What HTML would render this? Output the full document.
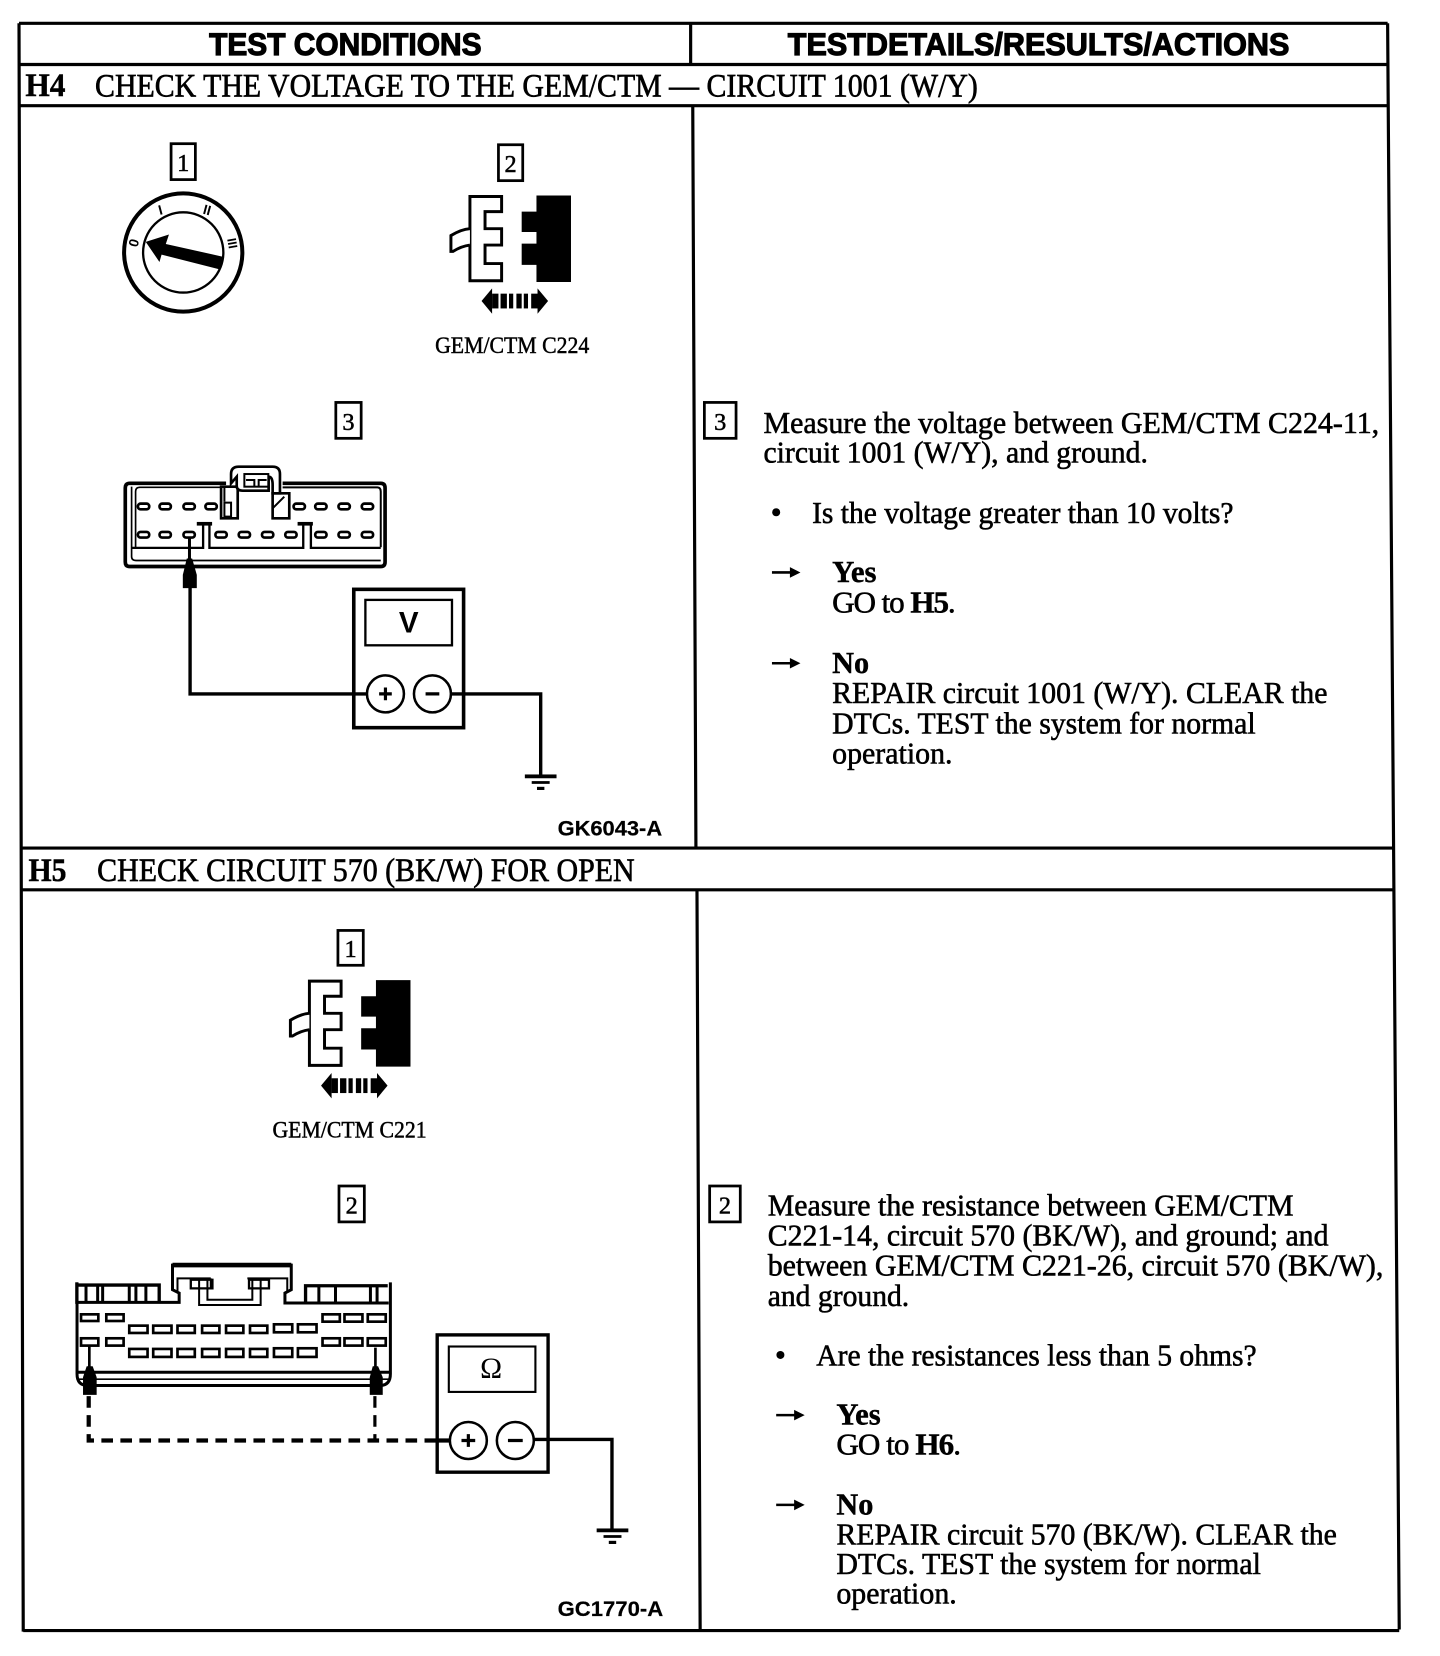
<!DOCTYPE html>
<html><head><meta charset="utf-8"><style>
html,body{margin:0;padding:0;background:#fff}
svg{display:block}
text{fill:#000}
.s{font-family:"Liberation Serif",serif;font-size:29.5px;stroke:#000;stroke-width:.55}
.b{font-family:"Liberation Serif",serif;font-size:29.5px;font-weight:bold;stroke:#000;stroke-width:.4}
.t{font-family:"Liberation Serif",serif;font-size:31px;stroke:#000;stroke-width:.6}
.h{font-family:"Liberation Sans",sans-serif;font-size:30px;font-weight:bold;stroke:#000;stroke-width:1.1}
.l{font-family:"Liberation Serif",serif;font-size:21.5px;stroke:#000;stroke-width:.45}
.c{font-family:"Liberation Sans",sans-serif;font-size:20.5px;font-weight:bold;stroke:#000;stroke-width:.2}
.n{font-family:"Liberation Serif",serif;font-size:23px;text-anchor:middle;stroke:#000;stroke-width:.5}
.ln{stroke:#000;stroke-width:2.6;fill:none}
.bx{stroke:#000;stroke-width:2.6;fill:#fff}
.w{stroke:#000;stroke-width:3.2;fill:none}
.p{fill:#fff;stroke:#000;stroke-width:8}
.z{fill:none;stroke:#000;stroke-width:6}
.d{font-family:"Liberation Sans",sans-serif;font-size:13px;font-weight:bold;text-anchor:middle}
</style></head><body>
<svg xmlns="http://www.w3.org/2000/svg" width="1440" height="1656" viewBox="0 0 1363.6 1568">
<defs>
<g id="ic">
<path d="M0,0H30V14.3H14.3V30.5H30V46H14.3V63.5H30V79.8H0Z" fill="#fff" stroke="#000" stroke-width="2.8"/>
<path d="M0,30.5Q-8,31 -18,37V52L-16,52Q-8,47 0,46" fill="#fff" stroke="#000" stroke-width="2.8"/>
<path d="M63,-1H95.7V81H63V64.8H49V44.6H63V33.6H49V14.3H63Z" fill="#000"/>
<path d="M11,99L21,87V111Z" fill="#000"/><path d="M74,99L64,87V111Z" fill="#000"/>
<rect x="21" y="92" width="6" height="14"/><rect x="29" y="92" width="6" height="14"/><rect x="37" y="92" width="4" height="14"/><rect x="44" y="92" width="5" height="14"/><rect x="51" y="92" width="4" height="14"/><rect x="58" y="92" width="7" height="14"/>
</g>
<g id="gnd"><rect x="-15" y="-1.7" width="30" height="3.6"/><rect x="-8.5" y="4.6" width="17" height="2.6"/><rect x="-3.5" y="10" width="7" height="3"/></g>
</defs>

<!-- table frame -->
<path class="ln" d="M18,22H1314M18,61H1314M19,100H1315M654,22V61M18,22L22,1545M1314,22L1325,1543M656,100L659,803M19,803H1320M21,842.5H1321M660,843L663,1543M22,1544H1325" style="stroke-width:3"/>

<!-- headers -->
<text class="h" x="198" y="52" textLength="258" lengthAdjust="spacingAndGlyphs">TEST CONDITIONS</text>
<text class="h" x="746" y="52" textLength="475" lengthAdjust="spacingAndGlyphs">TESTDETAILS/RESULTS/ACTIONS</text>
<text class="b" x="24" y="91" textLength="38" lengthAdjust="spacingAndGlyphs" style="font-size:31px">H4</text>
<text class="t" x="90" y="91.500" textLength="836" lengthAdjust="spacingAndGlyphs">CHECK THE VOLTAGE TO THE GEM/CTM — CIRCUIT 1001 (W/Y)</text>
<text class="b" x="27" y="834" textLength="36" lengthAdjust="spacingAndGlyphs" style="font-size:31px">H5</text>
<text class="t" x="92" y="834" textLength="509" lengthAdjust="spacingAndGlyphs">CHECK CIRCUIT 570 (BK/W) FOR OPEN</text>

<!-- number boxes -->
<rect class="bx" x="162" y="136" width="23" height="34"/><text class="n" x="173.500" y="162">1</text>
<rect class="bx" x="472" y="137" width="23" height="34"/><text class="n" x="483.500" y="163">2</text>
<rect class="bx" x="318" y="381" width="24" height="34"/><text class="n" x="330" y="407">3</text>
<rect class="bx" x="667" y="381" width="30" height="34"/><text class="n" x="682" y="407">3</text>
<rect class="bx" x="320" y="881" width="24" height="33"/><text class="n" x="332" y="906">1</text>
<rect class="bx" x="321" y="1123" width="24" height="34"/><text class="n" x="333" y="1149">2</text>
<rect class="bx" x="672" y="1123" width="29" height="34"/><text class="n" x="686.500" y="1149">2</text>

<!-- ignition dial -->
<circle cx="173.500" cy="239" r="56" fill="#fff" stroke="#000" stroke-width="3.800"/>
<circle cx="173.500" cy="239" r="38" fill="none" stroke="#000" stroke-width="2.200"/>
<path d="M138,229L160,222L157,231L211,243L208,255L153,241L151,248Z" fill="#000"/>
<text class="d" transform="translate(131,231) rotate(-75)">0</text>
<text class="d" transform="translate(153,203) rotate(-15)">I</text>
<text class="d" transform="translate(195,203) rotate(15)">II</text>
<text class="d" transform="translate(216,231) rotate(80)" style="font-size:12px">III</text>

<!-- connector icons -->
<use href="#ic" x="445" y="186"/>
<text class="l" x="412" y="334" textLength="146" lengthAdjust="spacingAndGlyphs">GEM/CTM C224</text>
<use href="#ic" x="293" y="929"/>
<text class="l" x="258" y="1077" textLength="146" lengthAdjust="spacingAndGlyphs">GEM/CTM C221</text>

<!-- H4 connector -->
<g transform="translate(118,457) scale(.315) translate(-45,-68)">
<path d="M350,70H60Q47,70 47,84V306Q47,320 60,320H815Q828,320 828,306V84Q828,70 815,70H520" class="z" style="stroke-width:11"/>
<path d="M350,82H90Q78,82 78,95V262" class="z" style="stroke-width:5"/>
<path d="M520,82H805Q815,82 815,95V262" class="z" style="stroke-width:6"/>
<path d="M66,80V290Q66,302 80,302H815" class="z" style="stroke-width:5"/>
<path d="M66,264H281V192H300V264H582V192H605V264H815" class="z" style="stroke-width:7"/>
<rect x="262" y="186" width="46" height="11"/><rect x="565" y="186" width="46" height="11"/>
<path d="M335,80H385V175H335ZM490,100H540V175H490Z" fill="#fff" stroke="#000" stroke-width="8"/>
<path d="M345,80V125M490,145L525,110" class="z" style="stroke-width:6"/>
<rect x="345" y="128" width="20" height="42" fill="#fff" stroke="#000" stroke-width="6"/>
<path d="M365,70V42Q365,20 388,20H490Q512,20 512,42V100H490V75Q490,50 478,50V92H400Q382,92 382,78V50Z" fill="#fff" stroke="#000" stroke-width="8"/>
<rect x="405" y="42" width="72" height="38" fill="#fff" stroke="#000" stroke-width="6"/>
<path d="M410,60H435V78M448,78V60H472" class="z" style="stroke-width:6"/>
<g class="p">
<rect x="85" y="131" width="34" height="17" rx="8"/><rect x="150" y="131" width="34" height="17" rx="8"/><rect x="222" y="131" width="34" height="17" rx="8"/><rect x="288" y="131" width="34" height="17" rx="8"/><rect x="553" y="131" width="34" height="17" rx="8"/><rect x="618" y="131" width="34" height="17" rx="8"/><rect x="688" y="131" width="34" height="17" rx="8"/><rect x="758" y="131" width="34" height="17" rx="8"/>
<rect x="85" y="216" width="34" height="17" rx="8"/><rect x="150" y="216" width="34" height="17" rx="8"/><rect x="222" y="216" width="34" height="17" rx="8"/><rect x="318" y="216" width="34" height="17" rx="8"/><rect x="388" y="216" width="34" height="17" rx="8"/><rect x="458" y="216" width="34" height="17" rx="8"/><rect x="528" y="216" width="34" height="17" rx="8"/><rect x="618" y="216" width="34" height="17" rx="8"/><rect x="688" y="216" width="34" height="17" rx="8"/><rect x="758" y="216" width="34" height="17" rx="8"/>
</g>
<path d="M240,233V300" class="z" style="stroke-width:9"/>
<path d="M232,296H248L262,345V385H220V345Z" fill="#000"/>
</g>

<!-- H4 wires + meter -->
<rect x="335" y="558" width="104" height="131" fill="#fff" stroke="#000" stroke-width="3.400"/>
<rect x="346" y="568" width="82" height="43" fill="#fff" stroke="#000" stroke-width="2.200"/>
<text x="387" y="599" text-anchor="middle" style="font:bold 28px 'Liberation Sans',sans-serif">V</text>
<path class="w" d="M180,556V657H348M426,657H512V735"/>
<circle cx="365" cy="657" r="17.500" fill="#fff" stroke="#000" stroke-width="2.400"/>
<circle cx="409.500" cy="657" r="17.500" fill="#fff" stroke="#000" stroke-width="2.400"/>
<path d="M359,657H371M365,651V663M403,657H416" stroke="#000" stroke-width="3"/>
<use href="#gnd" x="512" y="735"/>
<text class="c" x="528" y="791" textLength="99" lengthAdjust="spacingAndGlyphs">GK6043-A</text>

<!-- H5 connector -->
<g transform="translate(72,1248) scale(.315) translate(-45,-147)">
<path d="M48,40V315Q48,350 80,350H958Q990,350 990,315V40" class="z" style="stroke-width:9"/>
<path d="M47,40V100H355V72L335,62V-12H692V62L673,72V102H985" class="z" style="stroke-width:9"/>
<path d="M47,48H295V100M735,100V50H982" class="z" style="stroke-width:10"/>
<path d="M350,72V28H385M385,28H450M450,28V58M415,28V108H600V28M440,28V92H575V28M560,28H680V72" class="z" style="stroke-width:6"/>
<path d="M390,32H455V58H390ZM565,32H625V58H565Z" fill="none" stroke="#000" stroke-width="7"/>
<path d="M335,-12H692" class="z" style="stroke-width:14"/>
<path d="M75,52V98M110,52V98M125,52V98M205,52V98M225,52V98M255,52V98M775,52V98M825,52V98M930,52V98M950,52V98" class="z" style="stroke-width:9"/>
<path d="M48,331H990" class="z" style="stroke-width:5"/>
<path d="M48,310H990" class="z" style="stroke-width:9"/>
<g class="p">
<rect x="60" y="136" width="52" height="20"/><rect x="136" y="136" width="52" height="20"/><rect x="205" y="170" width="55" height="22"/><rect x="277" y="170" width="55" height="22"/><rect x="350" y="170" width="52" height="22"/><rect x="424" y="170" width="52" height="22"/><rect x="496" y="170" width="52" height="22"/><rect x="568" y="170" width="52" height="22"/><rect x="640" y="166" width="55" height="24"/><rect x="712" y="166" width="56" height="24"/><rect x="786" y="136" width="52" height="22"/><rect x="852" y="136" width="54" height="22"/><rect x="922" y="136" width="54" height="22"/>
<rect x="60" y="208" width="52" height="22"/><rect x="136" y="208" width="52" height="22"/><rect x="205" y="240" width="55" height="24"/><rect x="277" y="240" width="55" height="24"/><rect x="350" y="240" width="52" height="24"/><rect x="424" y="240" width="52" height="24"/><rect x="496" y="240" width="52" height="24"/><rect x="568" y="240" width="52" height="24"/><rect x="640" y="238" width="55" height="26"/><rect x="712" y="238" width="56" height="26"/><rect x="786" y="208" width="52" height="22"/><rect x="852" y="208" width="54" height="22"/><rect x="922" y="208" width="54" height="22"/>
</g>
<path d="M85,230V300M945,236V300" class="z" style="stroke-width:8"/>
<path d="M77,292H95L107,325V378H66V325Z" fill="#000"/>
<path d="M937,292H953L967,325V378H928V325Z" fill="#000"/>
</g>

<!-- H5 wires + meter -->
<path d="M84,1322V1364H426" fill="none" stroke="#000" stroke-width="4" stroke-dasharray="11 7"/>
<path d="M355,1322V1364" fill="none" stroke="#000" stroke-width="3" stroke-dasharray="11 7"/>
<rect x="414" y="1264" width="105" height="130" fill="#fff" stroke="#000" stroke-width="3.200"/>
<rect x="425" y="1275" width="82" height="43" fill="#fff" stroke="#000" stroke-width="2"/>
<text x="465" y="1305" text-anchor="middle" style="font:28px 'Liberation Serif','DejaVu Serif',serif">Ω</text>
<path d="M414,1364H426" stroke="#000" stroke-width="4"/>
<path class="w" d="M505,1363H579.500V1449"/>
<circle cx="443.500" cy="1364" r="17.500" fill="#fff" stroke="#000" stroke-width="2.400"/>
<circle cx="488" cy="1364" r="17.500" fill="#fff" stroke="#000" stroke-width="2.400"/>
<path d="M437,1364H450M443.500,1358V1370M481,1364H495" stroke="#000" stroke-width="3"/>
<use href="#gnd" x="580" y="1449"/>
<text class="c" x="528" y="1530" textLength="100" lengthAdjust="spacingAndGlyphs">GC1770-A</text>

<!-- H4 right text -->
<g>
<text class="s" x="723" y="410" textLength="583" lengthAdjust="spacingAndGlyphs">Measure the voltage between GEM/CTM C224-11,</text>
<text class="s" x="723" y="438" textLength="364" lengthAdjust="spacingAndGlyphs">circuit 1001 (W/Y), and ground.</text>
<circle cx="735" cy="485" r="3.800"/>
<text class="s" x="769" y="495" textLength="399" lengthAdjust="spacingAndGlyphs">Is the voltage greater than 10 volts?</text>
<path d="M731,542H750" stroke="#000" stroke-width="2.400"/><path d="M748,537L758,542L748,547Z"/>
<text class="b" x="788" y="551" textLength="42" lengthAdjust="spacingAndGlyphs">Yes</text>
<text class="s" x="788" y="580" textLength="117" lengthAdjust="spacing">GO to <tspan class="b">H5</tspan>.</text>
<path d="M731,628H750" stroke="#000" stroke-width="2.400"/><path d="M748,623L758,628L748,633Z"/>
<text class="b" x="788" y="637" textLength="35" lengthAdjust="spacingAndGlyphs">No</text>
<text class="s" x="788" y="665.500" textLength="469" lengthAdjust="spacingAndGlyphs">REPAIR circuit 1001 (W/Y). CLEAR the</text>
<text class="s" x="788" y="694.500" textLength="401" lengthAdjust="spacingAndGlyphs">DTCs. TEST the system for normal</text>
<text class="s" x="788" y="723" textLength="114" lengthAdjust="spacingAndGlyphs">operation.</text>
</g>

<!-- H5 right text -->
<g>
<text class="s" x="727" y="1151" textLength="498" lengthAdjust="spacingAndGlyphs">Measure the resistance between GEM/CTM</text>
<text class="s" x="727" y="1179.500" textLength="531" lengthAdjust="spacingAndGlyphs">C221-14, circuit 570 (BK/W), and ground; and</text>
<text class="s" x="727" y="1208" textLength="583" lengthAdjust="spacingAndGlyphs">between GEM/CTM C221-26, circuit 570 (BK/W),</text>
<text class="s" x="727" y="1236.500" textLength="134" lengthAdjust="spacingAndGlyphs">and ground.</text>
<circle cx="739" cy="1283" r="3.800"/>
<text class="s" x="773" y="1293" textLength="417" lengthAdjust="spacingAndGlyphs">Are the resistances less than 5 ohms?</text>
<path d="M735,1340H754" stroke="#000" stroke-width="2.400"/><path d="M752,1335L762,1340L752,1345Z"/>
<text class="b" x="792" y="1349" textLength="42" lengthAdjust="spacingAndGlyphs">Yes</text>
<text class="s" x="792" y="1377.500" textLength="118" lengthAdjust="spacing">GO to <tspan class="b">H6</tspan>.</text>
<path d="M735,1425H754" stroke="#000" stroke-width="2.400"/><path d="M752,1420L762,1425L752,1430Z"/>
<text class="b" x="792" y="1434" textLength="35" lengthAdjust="spacingAndGlyphs">No</text>
<text class="s" x="792" y="1462.500" textLength="474" lengthAdjust="spacingAndGlyphs">REPAIR circuit 570 (BK/W). CLEAR the</text>
<text class="s" x="792" y="1490.500" textLength="402" lengthAdjust="spacingAndGlyphs">DTCs. TEST the system for normal</text>
<text class="s" x="792" y="1518.500" textLength="114" lengthAdjust="spacingAndGlyphs">operation.</text>
</g>
</svg>
</body></html>
